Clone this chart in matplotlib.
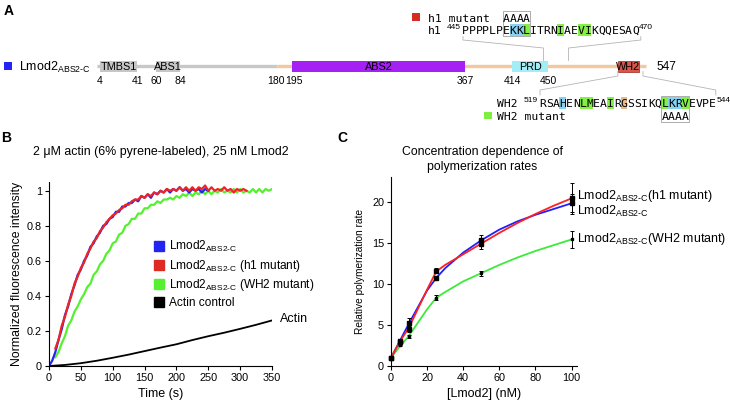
import matplotlib
matplotlib.use('Agg')
import matplotlib.pyplot as plt
from matplotlib.patches import Rectangle
from matplotlib.lines import Line2D
from matplotlib import font_manager

plt.rcParams['font.family'] = ['Liberation Sans', 'DejaVu Sans']
plt.rcParams['mathtext.fontset'] = 'custom'
plt.rcParams['mathtext.rm'] = 'Liberation Sans'
plt.rcParams['mathtext.it'] = 'Liberation Sans:italic'
plt.rcParams['mathtext.bf'] = 'Liberation Sans:bold'

_names = {f.name for f in font_manager.fontManager.ttflist}
if 'Liberation Sans Narrow' in _names:
    NARROW = ['Liberation Sans Narrow', 'Liberation Sans', 'DejaVu Sans']
    NSCALE = 1.0
else:
    NARROW = ['Liberation Sans', 'DejaVu Sans']
    NSCALE = 0.85

# ---------------- data ----------------
# Panel A: domain map of Lmod2 ABS2-C construct
domain_names = ['TMBS1', 'ABS1', 'ABS2', 'PRD', 'WH2']
domain_start = [4, 60, 195, 414, 519]
domain_end = [41, 84, 367, 450, 540]
domain_colors = ['#c6c6c6', '#c6c6c6', '#a520f2', '#a2eef6', '#d9574a']
residue_ticks = [4, 41, 60, 84, 180, 195, 367, 414, 450]
protein_end = 547
linker_start = 180

h1_seq = 'PPPPLPEKKLITRNIAEVIKQQESAQ'
h1_first, h1_last = 445, 470
h1_blue = [7, 8]
h1_green = [9, 14, 17, 18]
h1_mut = [6, 7, 8, 9]

wh2_seq = 'RSAHENLMEAIRGSSIKQLKRVEVPE'
wh2_first, wh2_last = 519, 544
wh2_blue = [3, 19, 20]
wh2_green = [6, 7, 10, 18, 21]
wh2_tan = [12]
wh2_mut = [18, 19, 20, 21]

# Panel B: pyrene-actin polymerization time courses
blue_t = list(range(0, 255, 5))
blue_y = [0.00, 0.03, 0.08, 0.15, 0.21, 0.29, 0.34, 0.41, 0.46, 0.52,
          0.55, 0.60, 0.63, 0.68, 0.70, 0.74, 0.76, 0.80, 0.81, 0.84,
          0.85, 0.88, 0.88, 0.91, 0.91, 0.93, 0.93, 0.95, 0.94, 0.97,
          0.96, 0.98, 0.96, 0.99, 0.98, 1.00, 0.99, 1.01, 0.99, 1.01,
          1.00, 1.02, 1.00, 1.01, 0.99, 1.01, 1.00, 1.01, 0.99, 1.01,
          1.00]
red_t = list(range(10, 315, 5))
red_y = [0.10, 0.15, 0.23, 0.28, 0.35, 0.40, 0.47, 0.51, 0.56, 0.59,
         0.64, 0.67, 0.71, 0.73, 0.77, 0.79, 0.82, 0.84, 0.86, 0.87,
         0.89, 0.90, 0.92, 0.92, 0.94, 0.95, 0.95, 0.97, 0.96, 0.98,
         0.97, 0.99, 0.98, 1.00, 0.99, 1.01, 1.00, 1.01, 1.00, 1.02,
         1.00, 1.02, 1.00, 1.02, 1.00, 1.02, 1.01, 1.03, 1.00, 1.02,
         1.00, 1.01, 1.00, 1.02, 1.00, 1.01, 0.99, 1.01, 1.00, 1.01,
         1.00]
green_t = list(range(10, 355, 5))
green_y = [0.05, 0.08, 0.13, 0.17, 0.23, 0.26, 0.31, 0.34, 0.38, 0.41,
           0.45, 0.47, 0.52, 0.54, 0.58, 0.60, 0.64, 0.66, 0.70, 0.71,
           0.75, 0.76, 0.80, 0.81, 0.84, 0.84, 0.87, 0.87, 0.90, 0.90,
           0.92, 0.92, 0.94, 0.93, 0.95, 0.95, 0.96, 0.95, 0.97, 0.96,
           0.98, 0.97, 0.99, 0.97, 0.99, 0.98, 1.00, 0.98, 1.00, 0.98,
           1.00, 0.99, 1.01, 0.99, 1.00, 0.99, 1.01, 0.99, 1.01, 0.99,
           1.00, 0.99, 1.01, 0.99, 1.01, 0.99, 1.01, 1.00, 1.01]
actin_t = list(range(0, 375, 25))
actin_y = [0.0, 0.006, 0.016, 0.030, 0.047, 0.065, 0.085, 0.105, 0.124,
           0.148, 0.170, 0.190, 0.212, 0.235, 0.260]

# Panel C: concentration dependence
conc = [0, 5, 10, 25, 50, 100]
rate_wt = [1.0, 3.1, 5.2, 10.7, 15.3, 19.8]
err_wt = [0.1, 0.2, 0.6, 0.2, 0.7, 1.1]
rate_h1 = [1.0, 2.95, 4.5, 11.6, 14.9, 20.4]
err_h1 = [0.1, 0.2, 0.4, 0.3, 0.7, 1.9]
rate_wh2 = [1.0, 2.5, 3.6, 8.3, 11.3, 15.4]
err_wh2 = [0.1, 0.1, 0.2, 0.3, 0.3, 1.0]
fit_x = [0, 5, 10, 15, 20, 25, 30, 40, 50, 60, 70, 80, 90, 100]
fit_wt = [1.0, 3.1, 5.2, 7.2, 9.2, 10.7, 11.9, 13.8, 15.3, 16.6, 17.6, 18.4, 19.1, 19.8]
fit_h1 = [1.0, 3.0, 4.7, 7.0, 9.3, 11.5, 12.3, 13.6, 14.9, 16.2, 17.4, 18.5, 19.5, 20.4]
fit_wh2 = [1.0, 2.4, 3.7, 5.3, 6.9, 8.3, 9.0, 10.3, 11.3, 12.3, 13.2, 14.0, 14.7, 15.4]

# colours
C_BLUE = '#2424f2'
C_RED = '#ee2424'
C_GREEN = '#55f030'
HL_BLUE = '#86d2f2'
HL_GREEN = '#84f046'
HL_TAN = '#e6b88c'
LINE_GRAY = '#c8c8c8'
LINE_TAN = '#f2c89c'
CONN = '#b4b4b4'

SUB = r'$_{\mathregular{ABS2\text{-}C}}$'

W, H = 730, 401
fig = plt.figure(figsize=(W / 100, H / 100), dpi=100)

# ---------------- panel A (pixel coordinate canvas) ----------------
axA = fig.add_axes([0, 0, 1, 1])
axA.set_xlim(0, W)
axA.set_ylim(H, 0)
axA.axis('off')


def rx(r):
    return 96 + 1.0055 * r


MONO = 'DejaVu Sans Mono'
FS_MONO = 8.2

axA.text(4, 15, 'A', fontsize=10, fontweight='bold', ha='left', va='baseline')

# construct legend
axA.add_patch(Rectangle((4, 62), 7.5, 8, fc=C_BLUE, ec='none'))
axA.text(19, 71, 'Lmod2' + SUB, fontsize=9, ha='left', va='baseline')

bar_y = 66
axA.plot([rx(1), rx(linker_start)], [bar_y, bar_y], color=LINE_GRAY, lw=2.4,
         solid_capstyle='butt', zorder=1)
axA.plot([rx(linker_start), rx(protein_end)], [bar_y, bar_y], color=LINE_TAN, lw=2.4,
         solid_capstyle='butt', zorder=1)
for name, s, e, c in zip(domain_names, domain_start, domain_end, domain_colors):
    ec = '#a83a34' if name == 'WH2' else 'none'
    axA.add_patch(Rectangle((rx(s), 60.5), rx(e) - rx(s), 11, fc=c, ec=ec, lw=0.6, zorder=2))
    axA.text((rx(s) + rx(e)) / 2, 69.8, name, family=NARROW, fontsize=9.2 * NSCALE,
             ha='center', va='baseline', zorder=3)
for r in residue_ticks:
    dx = {180: -1, 195: 1.5}.get(r, 0)
    axA.text(rx(r) + dx, 83.5, str(r), family=NARROW, fontsize=8.8 * NSCALE,
             ha='center', va='baseline')
axA.text(rx(protein_end) + 10, 70.5, str(protein_end), family=NARROW, fontsize=10 * NSCALE,
         ha='left', va='baseline')


def draw_seq(seq, x0, cw, ytop, hh, base, blue, green, tan):
    for i, ch in enumerate(seq):
        col = None
        if i in blue:
            col = HL_BLUE
        elif i in green:
            col = HL_GREEN
        elif i in tan:
            col = HL_TAN
        if col:
            axA.add_patch(Rectangle((x0 + cw * i, ytop), cw, hh, fc=col, ec='none', zorder=1))
        axA.text(x0 + cw * (i + 0.5), base, ch, family=MONO, fontsize=FS_MONO,
                 ha='center', va='baseline', zorder=2)


# h1 sequence
cw = 6.8
h1_x0 = 462
draw_seq(h1_seq, h1_x0, cw, 24, 12, 34, h1_blue, h1_green, [])
axA.text(428, 34, 'h1', family=MONO, fontsize=FS_MONO, ha='left', va='baseline')
axA.text(h1_x0 - 1, 29, str(h1_first), fontsize=6, ha='right', va='baseline')
axA.text(h1_x0 + cw * len(h1_seq) + 0.5, 29, str(h1_last), fontsize=6, ha='left', va='baseline')
axA.add_patch(Rectangle((412, 13), 7.5, 7.5, fc='#d42c22', ec='none'))
axA.text(428, 21.5, 'h1 mutant', family=MONO, fontsize=FS_MONO, ha='left', va='baseline')
for i in h1_mut:
    axA.text(h1_x0 + cw * (i + 0.5), 21.5, 'A', family=MONO, fontsize=FS_MONO,
             ha='center', va='baseline')
axA.add_patch(Rectangle((h1_x0 + cw * h1_mut[0], 10.5), cw * len(h1_mut), 25.5,
                        fc='none', ec='#a0a0a0', lw=0.6))

# WH2 sequence
wh_x0 = 539
draw_seq(wh2_seq, wh_x0, cw, 96.5, 12, 107, wh2_blue, wh2_green, wh2_tan)
axA.text(497, 107, 'WH2', family=MONO, fontsize=FS_MONO, ha='left', va='baseline')
axA.text(wh_x0 - 1, 101.5, str(wh2_first), fontsize=6, ha='right', va='baseline')
axA.text(wh_x0 + cw * len(wh2_seq) + 0.5, 101.5, str(wh2_last), fontsize=6, ha='left',
         va='baseline')
axA.add_patch(Rectangle((484, 111.5), 7.5, 7.5, fc='#80ee40', ec='none'))
axA.text(497, 120, 'WH2 mutant', family=MONO, fontsize=FS_MONO, ha='left', va='baseline')
for i in wh2_mut:
    axA.text(wh_x0 + cw * (i + 0.5), 120, 'A', family=MONO, fontsize=FS_MONO,
             ha='center', va='baseline')
axA.add_patch(Rectangle((wh_x0 + cw * wh2_mut[0], 96), cw * len(wh2_mut), 26,
                        fc='none', ec='#a0a0a0', lw=0.6))

# connectors
h1_end_x = h1_x0 + cw * len(h1_seq)
axA.plot([rx(h1_first), rx(h1_first), h1_x0 + 1, h1_x0 + 1], [60.5, 48, 40, 36.5],
         color=CONN, lw=0.6)
axA.plot([rx(h1_last), rx(h1_last), h1_end_x + 2, h1_end_x + 2], [60.5, 48, 40, 36.5],
         color=CONN, lw=0.6)
wh_end_x = wh_x0 + cw * len(wh2_seq)
axA.plot([rx(wh2_first), rx(wh2_first), wh_x0 + 1, wh_x0 + 1], [71.5, 76, 90, 95],
         color=CONN, lw=0.6)
axA.plot([rx(wh2_last), rx(wh2_last), wh_end_x, wh_end_x], [71.5, 76, 90, 95],
         color=CONN, lw=0.6)

# panel labels & titles
axA.text(1, 142, 'B', fontsize=10, fontweight='bold', ha='left', va='baseline')
axA.text(337, 142, 'C', fontsize=10, fontweight='bold', ha='left', va='baseline')
axA.text(161, 155, '2 \u03bcM actin (6% pyrene-labeled), 25 nM Lmod2', fontsize=8.9,
         ha='center', va='baseline')
axA.text(482, 155, 'Concentration dependence of', fontsize=8.8, ha='center', va='baseline')
axA.text(482, 170, 'polymerization rates', fontsize=8.8, ha='center', va='baseline')


def style_axes(ax):
    for s in ['top', 'right']:
        ax.spines[s].set_visible(False)
    for s in ['left', 'bottom']:
        ax.spines[s].set_linewidth(0.8)
    ax.tick_params(direction='out', length=3, width=0.8, pad=2)
    for lab in ax.get_xticklabels() + ax.get_yticklabels():
        lab.set_family(NARROW)
        lab.set_fontsize(9.2 * NSCALE)


# ---------------- panel B ----------------
axB = fig.add_axes([49 / W, 1 - 366 / H, 223 / W, 184 / H])
axB.plot(actin_t, actin_y, color='black', lw=1.3)
axB.plot(green_t, green_y, color=C_GREEN, lw=1.6)
axB.plot(blue_t, blue_y, color=C_BLUE, lw=1.6)
axB.plot(red_t, red_y, color=C_RED, lw=1.6)
axB.set_xlim(0, 350)
axB.set_ylim(0, 1.05)
axB.set_xticks([0, 50, 100, 150, 200, 250, 300, 350])
axB.set_yticks([0, 0.2, 0.4, 0.6, 0.8, 1.0])
axB.set_yticklabels(['0', '0.2', '0.4', '0.6', '0.8', '1'])
style_axes(axB)
axB.set_xlabel('Time (s)', fontsize=9, labelpad=4)
axB.set_ylabel('Normalized fluorescence intensity', fontsize=8.8, labelpad=3)
axB.text(362, 0.25, 'Actin', fontsize=9, ha='left', va='baseline')
handles = [Line2D([], [], marker='s', ls='none', ms=7, color=c, mec=c)
           for c in [C_BLUE, '#dd2a22', C_GREEN, 'black']]
labels = ['Lmod2' + SUB, 'Lmod2' + SUB + ' (h1 mutant)', 'Lmod2' + SUB + ' (WH2 mutant)',
          'Actin control']
axB.legend(handles, labels, loc='upper left', bbox_to_anchor=(0.475, 0.69), frameon=False,
           fontsize=8.6, handlelength=0.7, handletextpad=0.5, labelspacing=0.3,
           borderpad=0, borderaxespad=0)

# ---------------- panel C ----------------
axC = fig.add_axes([391 / W, 1 - 366 / H, 186 / W, 189 / H])
axC.plot(fit_x, fit_wh2, color='#3cea3c', lw=1.3)
axC.plot(fit_x, fit_wt, color='#2020ff', lw=1.3)
axC.plot(fit_x, fit_h1, color='#ff2020', lw=1.3)
axC.errorbar(conc, rate_wt, yerr=err_wt, fmt='s', color='black', ms=3.2, elinewidth=0.7,
             capsize=1.5, capthick=0.7, clip_on=False, zorder=5)
axC.errorbar(conc, rate_h1, yerr=err_h1, fmt='s', color='black', ms=3.2, elinewidth=0.7,
             capsize=1.5, capthick=0.7, clip_on=False, zorder=5)
axC.errorbar(conc, rate_wh2, yerr=err_wh2, fmt='s', color='black', ms=2.0, elinewidth=0.7,
             capsize=1.5, capthick=0.7, clip_on=False, zorder=5)
axC.set_xlim(0, 103)
axC.set_ylim(0, 23)
axC.set_xticks([0, 20, 40, 60, 80, 100])
axC.set_yticks([0, 5, 10, 15, 20])
style_axes(axC)
axC.set_xlabel('[Lmod2] (nM)', fontsize=9, labelpad=4)
axC.set_ylabel('Relative polymerization rate', family=NARROW, fontsize=8.6 * NSCALE,
               labelpad=5)
lab_fs = 10.6 * NSCALE
axC.text(103, rate_h1[-1] + 0.25, 'Lmod2' + SUB + '(h1 mutant)', family=NARROW,
         fontsize=lab_fs, ha='left', va='center', clip_on=False)
axC.text(103, rate_wt[-1] - 1.0, 'Lmod2' + SUB, family=NARROW, fontsize=lab_fs, ha='left',
         va='center', clip_on=False)
axC.text(103, rate_wh2[-1], 'Lmod2' + SUB + '(WH2 mutant)', family=NARROW, fontsize=lab_fs,
         ha='left', va='center', clip_on=False)

fig.savefig('out.png', dpi=100)
